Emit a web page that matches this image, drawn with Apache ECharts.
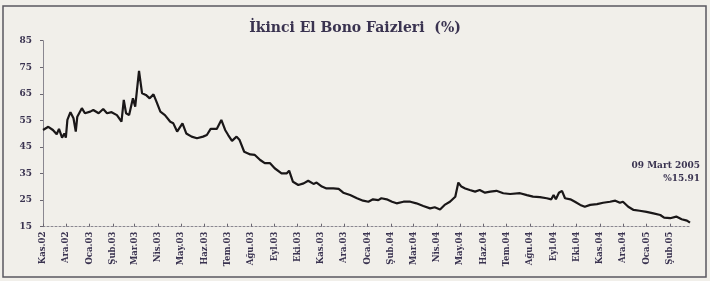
<!DOCTYPE html>
<html>
<head>
<meta charset="utf-8">
<style>
  html, body { margin: 0; padding: 0; background: #f1efea; }
  #chart { width: 710px; height: 281px; }
</style>
<script src="https://cdn.jsdelivr.net/npm/echarts@6/dist/echarts.min.js"></script>
</head>
<body>
<div id="chart"></div>
<script>
// İkinci el bono faizleri, Kasım 2002 - 9 Mart 2005 (okunan değerler)
const START = Date.UTC(2002, 10, 11)
const END = Date.UTC(2005, 2, 9)

const MONTHS = ['Oca', 'Şub', 'Mar', 'Nis', 'May', 'Haz', 'Tem', 'Ağu', 'Eyl', 'Eki', 'Kas', 'Ara']
const Y_MIN = 15
const Y_MAX = 85
const Y_STEP = 10

const dates = [
  '2002-11-11', '2002-11-18', '2002-11-24', '2002-11-29', '2002-12-02', '2002-12-06', '2002-12-09', '2002-12-11',
  '2002-12-13', '2002-12-17', '2002-12-21', '2002-12-24', '2002-12-26', '2003-01-01', '2003-01-05', '2003-01-12',
  '2003-01-16', '2003-01-23', '2003-01-29', '2003-02-03', '2003-02-09', '2003-02-16', '2003-02-22', '2003-02-25',
  '2003-02-28', '2003-03-04', '2003-03-09', '2003-03-12', '2003-03-15', '2003-03-17', '2003-03-21', '2003-03-26',
  '2003-03-31', '2003-04-05', '2003-04-09', '2003-04-14', '2003-04-20', '2003-04-27', '2003-05-01', '2003-05-06',
  '2003-05-13', '2003-05-18', '2003-05-25', '2003-06-01', '2003-06-09', '2003-06-14', '2003-06-19', '2003-06-27',
  '2003-07-03', '2003-07-08', '2003-07-12', '2003-07-17', '2003-07-23', '2003-07-27', '2003-08-02', '2003-08-10',
  '2003-08-16', '2003-08-23', '2003-08-29', '2003-09-05', '2003-09-11', '2003-09-20', '2003-09-27', '2003-09-30',
  '2003-10-05', '2003-10-12', '2003-10-19', '2003-10-25', '2003-11-01', '2003-11-05', '2003-11-12', '2003-11-18',
  '2003-11-27', '2003-12-04', '2003-12-10', '2003-12-19', '2003-12-28', '2004-01-05', '2004-01-12', '2004-01-18',
  '2004-01-25', '2004-01-29', '2004-02-05', '2004-02-12', '2004-02-18', '2004-02-27', '2004-03-07', '2004-03-15',
  '2004-03-24', '2004-04-02', '2004-04-08', '2004-04-15', '2004-04-21', '2004-04-28', '2004-05-05', '2004-05-09',
  '2004-05-13', '2004-05-18', '2004-05-24', '2004-05-31', '2004-06-06', '2004-06-13', '2004-06-20', '2004-06-28',
  '2004-07-07', '2004-07-16', '2004-07-29', '2004-08-07', '2004-08-15', '2004-08-24', '2004-09-02', '2004-09-08',
  '2004-09-11', '2004-09-14', '2004-09-18', '2004-09-22', '2004-09-26', '2004-10-03', '2004-10-09', '2004-10-16',
  '2004-10-22', '2004-10-29', '2004-11-07', '2004-11-15', '2004-11-24', '2004-12-01', '2004-12-03', '2004-12-07',
  '2004-12-11', '2004-12-18', '2004-12-25', '2005-01-02', '2005-01-11', '2005-01-20', '2005-01-29', '2005-02-03',
  '2005-02-11', '2005-02-19', '2005-02-26', '2005-03-05', '2005-03-09',
]

const rates = [
  51.4, 52.6, 51.4, 49.8, 51.8, 48.5, 50.1, 48.5,
  55.2, 58.1, 55.8, 50.8, 56.4, 59.6, 57.7, 58.3,
  58.9, 57.7, 59.3, 57.7, 58.1, 57.0, 54.5, 62.7,
  57.7, 57.0, 63.3, 60.2, 68.3, 73.6, 65.2, 64.6,
  63.3, 64.8, 62.0, 58.3, 57.0, 54.5, 53.9, 50.8,
  53.9, 50.1, 48.9, 48.3, 48.9, 49.5, 51.8, 51.8,
  55.2, 51.4, 49.5, 47.3, 48.9, 47.6, 43.2, 42.2,
  42.0, 40.1, 38.9, 38.9, 37.0, 35.1, 35.1, 36.1,
  31.9, 30.7, 31.3, 32.3, 31.1, 31.6, 30.1, 29.4,
  29.4, 29.2, 27.8, 26.9, 25.7, 24.8, 24.4, 25.3,
  25.0, 25.7, 25.3, 24.4, 23.8, 24.4, 24.4, 23.8,
  22.8, 21.9, 22.3, 21.5, 23.2, 24.4, 26.3, 31.6,
  30.1, 29.4, 28.8, 28.2, 28.8, 27.8, 28.2, 28.5,
  27.6, 27.3, 27.6, 26.9, 26.3, 26.1, 25.7, 25.3,
  26.9, 25.3, 27.8, 28.5, 25.7, 25.3, 24.4, 23.2,
  22.5, 23.2, 23.5, 24.0, 24.4, 24.8, 25.3, 24.0,
  24.4, 22.5, 21.3, 21.0, 20.6, 20.0, 19.4, 18.4,
  18.2, 18.8, 17.8, 17.3, 16.5,
]

const LAST_DATE = '09 Mart 2005'
const LAST_VALUE = '%15.91'

// her gün bir kategori
const days = []
for (let t = START; t <= END; t += 864e5) {
  days.push(new Date(t).toISOString().slice(0, 10))
}

const INK = '#3a3350'
const FONT = '"DejaVu Serif", "Liberation Serif", serif'

const isLabelDay = (i, v) => v.slice(8) === '11'

const chart = echarts.init(document.getElementById('chart'))
chart.setOption({
  backgroundColor: '#f1efea',
  animation: false,
  title: {
    text: 'İkinci El Bono Faizleri  (%)',
    left: 'center',
    top: 16,
    textStyle: { fontFamily: FONT, fontSize: 14, fontWeight: 'bold', color: INK },
  },
  grid: { left: 43, right: 20, top: 40.7, bottom: 54.3, containLabel: false },
  xAxis: {
    type: 'category',
    data: days,
    boundaryGap: false,
    axisLine: { lineStyle: { color: '#8a8790', width: 1, type: [2, 2] } },
    axisTick: { interval: isLabelDay, inside: true, length: 3, lineStyle: { color: '#6a6670' } },
    axisLabel: {
      interval: isLabelDay,
      rotate: 90,
      margin: 5,
      fontFamily: FONT,
      fontSize: 8.5,
      fontWeight: 'bold',
      color: INK,
      formatter: (v) => MONTHS[+v.slice(5, 7) - 1] + '.' + v.slice(2, 4),
    },
    splitLine: { show: false },
  },
  yAxis: {
    type: 'value',
    min: Y_MIN,
    max: Y_MAX,
    interval: Y_STEP,
    axisLine: { show: true, lineStyle: { color: '#8a8790', width: 1 } },
    axisTick: { show: true, length: 3, lineStyle: { color: '#6a6670' } },
    axisLabel: { margin: 11, fontFamily: FONT, fontSize: 9, fontWeight: 'bold', color: INK },
    splitLine: { show: false },
  },
  graphic: [
    {
      type: 'rect',
      shape: { x: 3, y: 6, width: 703, height: 271 },
      style: { fill: 'none', stroke: '#5a5860', lineWidth: 1.5 },
      silent: true,
    },
    {
      type: 'text',
      right: 10,
      top: 161,
      style: { text: LAST_DATE, fontFamily: FONT, fontSize: 9, fontWeight: 'bold', fill: INK, align: 'right' },
    },
    {
      type: 'text',
      right: 10,
      top: 174,
      style: { text: LAST_VALUE, fontFamily: FONT, fontSize: 9, fontWeight: 'bold', fill: INK, align: 'right' },
    },
  ],
  series: [
    {
      type: 'line',
      data: dates.map((d, i) => [d, rates[i]]),
      showSymbol: false,
      lineStyle: { color: '#1a1718', width: 2.2 },
    },
  ],
})
</script>
</body>
</html>
